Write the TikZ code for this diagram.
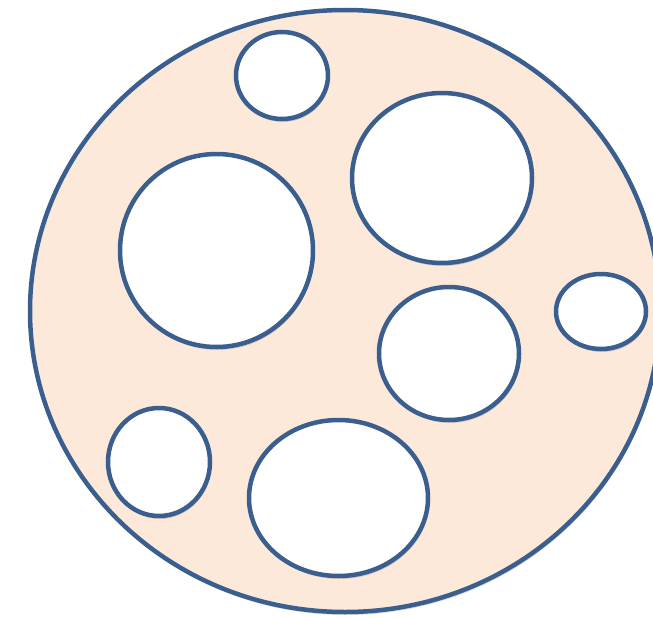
\documentclass[tikz,border=0pt]{standalone}
\usetikzlibrary{shapes.geometric,shadows}
\definecolor{rim}{HTML}{3A5F8F}
\definecolor{peach}{HTML}{FDE9DA}
\tikzset{
  cell/.style={ellipse, draw=rim, line width=4.5pt, inner sep=0pt, outer sep=0pt,
    drop shadow={shadow xshift=1pt, shadow yshift=-3pt, opacity=0.25, fill=black!60}},
  body/.style={cell, fill=peach},
  hole/.style={cell, fill=white},
}
\begin{document}
\begin{tikzpicture}[x=1pt,y=-1pt]
\useasboundingbox (0,0) rectangle (653,618);
\node[body, minimum width=630pt, minimum height=602pt] (outer) at (345,311) {};
\node[hole, minimum width=92pt, minimum height=87pt] (h1) at (282,75.5) {};
\node[hole, minimum width=180pt, minimum height=170pt] (h2) at (442,178) {};
\node[hole, minimum width=193pt, minimum height=193pt] (h3) at (216.5,250.5) {};
\node[hole, minimum width=140pt, minimum height=133pt] (h4) at (449,353.5) {};
\node[hole, minimum width=90pt, minimum height=75pt] (h5) at (601,311.5) {};
\node[hole, minimum width=102pt, minimum height=108pt] (h6) at (159,462) {};
\node[hole, minimum width=179pt, minimum height=156pt] (h7) at (338.5,498) {};
\end{tikzpicture}
\end{document}
